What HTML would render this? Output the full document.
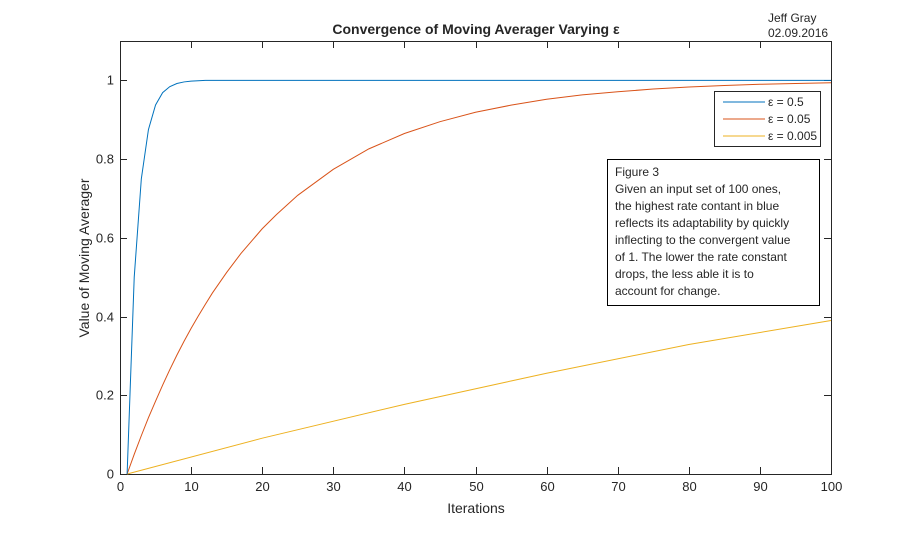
<!DOCTYPE html>
<html><head><meta charset="utf-8"><style>
body{margin:0;background:#fff;}
svg text{font-family:"Liberation Sans",sans-serif;fill:#262626;}
</style></head><body>
<svg width="919" height="532" xmlns="http://www.w3.org/2000/svg">
<g id="grid"></g>
<g id="marks"></g>
<text x="476" y="34" font-size="14" font-weight="bold" text-anchor="middle">Convergence of Moving Averager Varying ε</text>
<text x="768" y="22" font-size="12">Jeff Gray</text>
<text x="768" y="37" font-size="12">02.09.2016</text>
<text x="476" y="513" font-size="14" text-anchor="middle">Iterations</text>
<text transform="translate(89,258) rotate(-90)" font-size="14" text-anchor="middle">Value of Moving Averager</text>
<g>
<rect x="714.5" y="91.5" width="106" height="55" fill="#fff" stroke="#262626"/>
<line x1="723" y1="102" x2="765" y2="102" stroke="#0072BD"/>
<text x="768" y="106" font-size="12">ε = 0.5</text>
<line x1="723" y1="119" x2="765" y2="119" stroke="#D95319"/>
<text x="768" y="123" font-size="12">ε = 0.05</text>
<line x1="723" y1="136" x2="765" y2="136" stroke="#EDB120"/>
<text x="768" y="140" font-size="12">ε = 0.005</text>
</g>
<g>
<rect x="607.5" y="159.5" width="212" height="146" fill="#fff" stroke="#000"/>
<text font-size="12" fill="#000">
<tspan x="615" y="176">Figure 3</tspan>
<tspan x="615" y="193">Given an input set of 100 ones,</tspan>
<tspan x="615" y="210">the highest rate contant in blue</tspan>
<tspan x="615" y="227">reflects its adaptability by quickly</tspan>
<tspan x="615" y="244">inflecting to the convergent value</tspan>
<tspan x="615" y="261">of 1. The lower the rate constant</tspan>
<tspan x="615" y="278">drops, the less able it is to</tspan>
<tspan x="615" y="295">account for change.</tspan>
</text>
</g>
</svg>
<script>
const xTicks=[0,10,20,30,40,50,60,70,80,90,100];
const yTicks=[0,0.2,0.4,0.6,0.8,1];
const yTickLabels=["0","0.2","0.4","0.6","0.8","1"];
const blueX=[1,2,3,4,5,6,7,8,9,10,11,12,100];
const blueY=[0,0.5,0.75,0.875,0.9375,0.969,0.984,0.992,0.996,0.998,0.999,1,1];
const orangeX=[1,2,3,4,5,6,7,8,9,10,11,12,13,15,17,20,22,25,30,35,40,45,50,55,60,65,70,75,80,85,90,95,100];
const orangeY=[0,0.05,0.0975,0.143,0.185,0.226,0.265,0.302,0.337,0.370,0.401,0.431,0.460,0.512,0.560,0.623,0.659,0.708,0.774,0.826,0.865,0.895,0.919,0.937,0.952,0.963,0.971,0.978,0.983,0.987,0.990,0.992,0.994];
const yellowX=[1,20,40,60,80,100];
const yellowY=[0,0.091,0.177,0.256,0.329,0.390];
const X0=120,X1=831,YB=474,YT=41;
const sx=v=>X0+(v/100)*(X1-X0);
const sy=v=>YB-(v/1.1)*(YB-YT);
const NS="http://www.w3.org/2000/svg";
const g=document.getElementById('grid'),m=document.getElementById('marks');
function mk(t,a,p){const e=document.createElementNS(NS,t);for(const k in a)e.setAttribute(k,a[k]);p.appendChild(e);return e;}
const box=mk('rect',{x:X0+.5,y:YT+.5,width:X1-X0,height:YB-YT,fill:'#fff',stroke:'#262626'},g);


xTicks.forEach(v=>{const x=Math.round(sx(v))+.5;
mk('line',{x1:x,y1:YB,x2:x,y2:YB-7,stroke:'#262626'},g);
mk('line',{x1:x,y1:YT,x2:x,y2:YT+7,stroke:'#262626'},g);
const t=mk('text',{x:x,y:YB+17,'font-size':13,'text-anchor':'middle'},g);t.textContent=v;

});
yTicks.forEach((v,i)=>{const y=Math.round(sy(v))+.5;
mk('line',{x1:X0,y1:y,x2:X0+7,y2:y,stroke:'#262626'},g);
mk('line',{x1:X1,y1:y,x2:X1-7,y2:y,stroke:'#262626'},g);
const t=mk('text',{x:X0-6,y:y+4,'font-size':13,'text-anchor':'end'},g);t.textContent=yTickLabels[i];

});
function line(xs,ys,c,n){const p=mk('polyline',{points:xs.map((x,i)=>sx(x)+','+sy(ys[i])).join(' '),fill:'none',stroke:c,'stroke-width':1},m);

}
line(yellowX,yellowY,'#EDB120','series-eps-0.005');
line(orangeX,orangeY,'#D95319','series-eps-0.05');
line(blueX,blueY,'#0072BD','series-eps-0.5');
</script>
</body></html>
